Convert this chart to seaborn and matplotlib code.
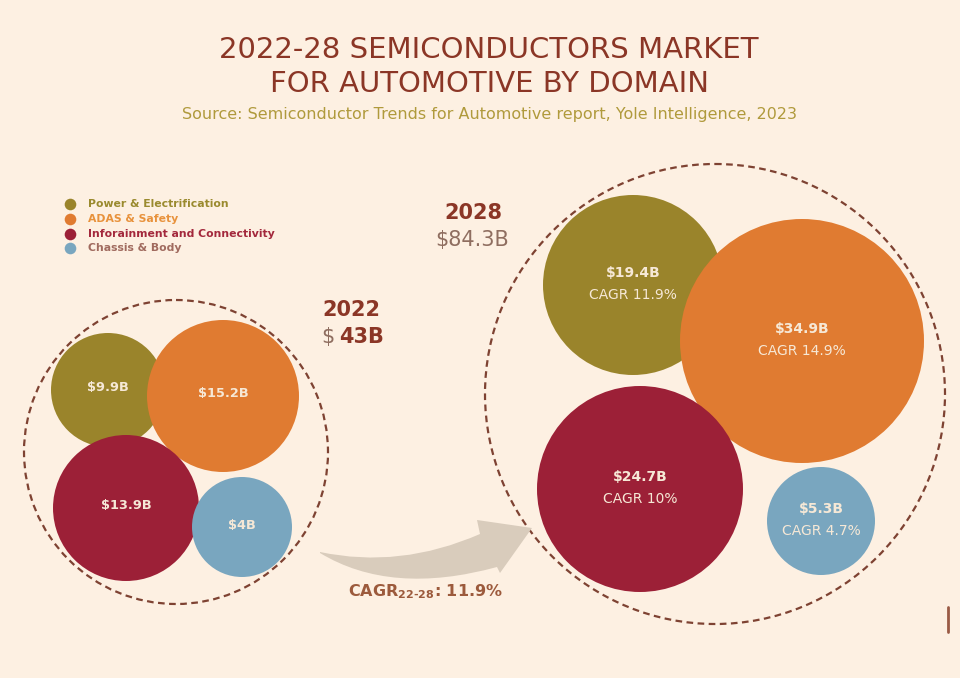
import numpy as np
import pandas as pd
import seaborn as sns
import matplotlib.pyplot as plt
from matplotlib.patches import Circle, PathPatch
from matplotlib.path import Path

# data
domains = ["Power & Electrification", "ADAS & Safety",
           "Inforainment and Connectivity", "Chassis & Body"]
value_2022 = [9.9, 15.2, 13.9, 4.0]
value_2028 = [19.4, 34.9, 24.7, 5.3]
cagr_2028 = ["11.9%", "14.9%", "10%", "4.7%"]
total_2022 = "43B"
total_2028 = "$84.3B"
cagr_total = "11.9%"

# layout (pixel positions of the bubbles, radius in px)
x_2022 = [108, 223, 126, 242]
y_2022 = [390, 396, 508, 527]
r_2022 = [57, 76, 73, 50]
x_2028 = [633, 802, 640, 821]
y_2028 = [285, 341, 489, 521]
r_2028 = [90, 122, 103, 54]

colors = ["#9a842b", "#e07b31", "#9c2037", "#79a6bf"]
legend_colors = ["#9a8a2e", "#e8923c", "#a3283c", "#a06a5e"]
bg = "#fdf0e2"
brown = "#8b3626"
label_col = "#f6e8d6"

df = pd.DataFrame({
    "domain": domains * 2,
    "year": [2022] * 4 + [2028] * 4,
    "value": value_2022 + value_2028,
    "x": x_2022 + x_2028,
    "y": y_2022 + y_2028,
    "r": r_2022 + r_2028,
})
df["area"] = df["r"] ** 2
amax = df["area"].max()
k = (2 * 0.72) ** 2  # px radius -> points^2 at 100 dpi

sns.set_style("white")
plt.rcParams["font.family"] = ["DejaVu Sans"]
plt.rcParams["mathtext.fontset"] = "custom"
plt.rcParams["mathtext.rm"] = "DejaVu Sans:bold"

fig = plt.figure(figsize=(9.6, 6.78), dpi=100, facecolor=bg)
ax = fig.add_axes([0, 0, 1, 1])
ax.set_facecolor(bg)

# dashed year rings
for cx, cy, rr in [(176, 452, 152), (715, 394, 230)]:
    ax.add_patch(Circle((cx, cy), rr, fill=False, ec="#7e4232", lw=1.6,
                        ls=(0, (3, 2)), zorder=1))

# arrow
verts = [(320, 552), (400, 569), (480, 534), (477, 520), (532, 528),
         (500, 573), (497, 567), (391, 596), (320, 553), (320, 552)]
codes = [Path.MOVETO, Path.CURVE3, Path.CURVE3, Path.LINETO, Path.LINETO,
         Path.LINETO, Path.LINETO, Path.CURVE3, Path.CURVE3, Path.CLOSEPOLY]
ax.add_patch(PathPatch(Path(verts, codes), fc="#d9ccbc", ec="none", zorder=1))

sns.scatterplot(data=df, x="x", y="y", hue="domain", palette=colors,
                size="area", sizes=(0, k * amax), size_norm=(0, amax),
                linewidth=0, alpha=1, legend=False, ax=ax, zorder=2)

ax.set_xlim(0, 960)
ax.set_ylim(678, 0)
ax.set_aspect("equal")
ax.axis("off")

# bubble labels
for i in range(4):
    v = value_2022[i]
    txt = f"${v:g}B"
    ax.text(x_2022[i], y_2022[i] - 2, txt, color=label_col, fontsize=9.3,
            fontweight="bold", ha="center", va="center", zorder=3)
    ax.text(x_2028[i], y_2028[i] - 12, f"${value_2028[i]:g}B", color=label_col,
            fontsize=10, fontweight="bold", ha="center", va="center", zorder=3)
    ax.text(x_2028[i], y_2028[i] + 10, f"CAGR {cagr_2028[i]}", color=label_col,
            fontsize=10, ha="center", va="center", zorder=3)

# title
ax.text(489, 50, "2022-28 SEMICONDUCTORS MARKET", color=brown, fontsize=21,
        ha="center", va="center")
ax.text(489, 84, "FOR AUTOMOTIVE BY DOMAIN", color=brown, fontsize=21,
        ha="center", va="center")
ax.text(489, 115, "Source: Semiconductor Trends for Automotive report, Yole Intelligence, 2023",
        color="#b09a3c", fontsize=11.5, ha="center", va="center")

# legend
for i, name in enumerate(domains):
    yy = 204 + i * 14.8
    ax.scatter(70, yy, s=70, color=colors[i], linewidth=0, zorder=3)
    ax.text(88, yy, name, color=legend_colors[i], fontsize=7.8,
            fontweight="bold", ha="left", va="center")

# year totals
ax.text(473, 213, "2028", color=brown, fontsize=15, fontweight="bold",
        ha="center", va="center")
ax.text(472, 240, total_2028, color="#8f6e60", fontsize=15,
        ha="center", va="center")
ax.text(351, 310, "2022", color=brown, fontsize=15, fontweight="bold",
        ha="center", va="center")
ax.text(328, 337, "$", color="#8f6e60", fontsize=15, ha="center", va="center")
ax.text(339, 337, total_2022, color=brown, fontsize=15, fontweight="bold",
        ha="left", va="center")

ax.text(425, 592, r"CAGR$_{\mathregular{22‑28}}$: " + cagr_total, color="#9c5a3c",
        fontsize=11.5, fontweight="bold", ha="center", va="center")

# little mark at the lower right
ax.plot([948, 948], [607, 632], color="#9a5a44", lw=2)

fig.savefig("out.png", dpi=100, facecolor=bg)
